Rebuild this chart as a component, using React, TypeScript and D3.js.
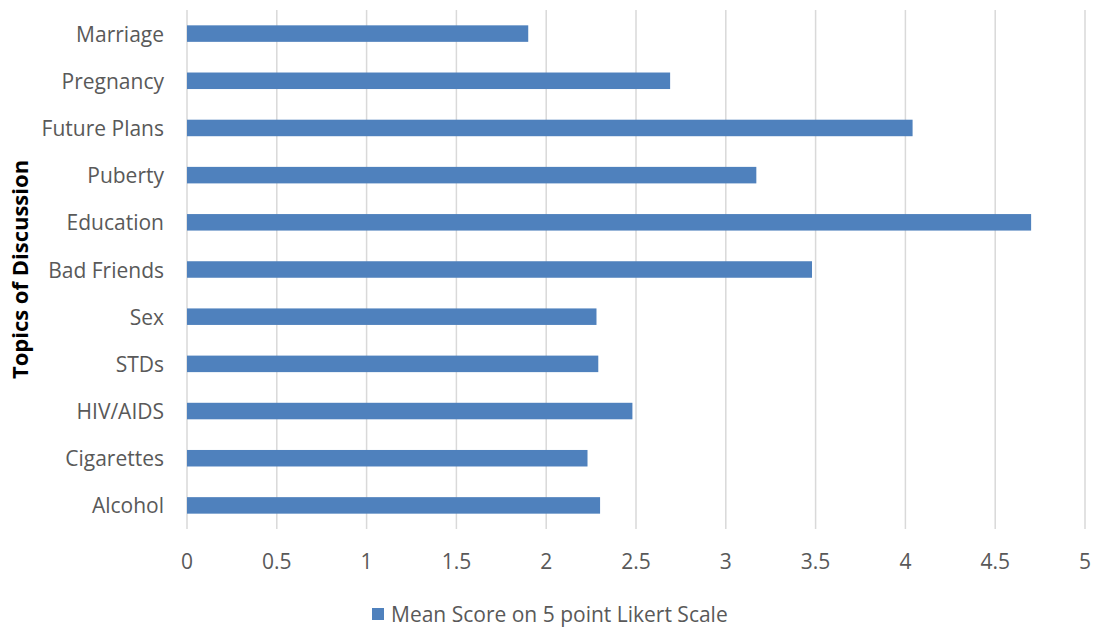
import React from "react";
import * as d3 from "d3";

const topics = [
  "Marriage",
  "Pregnancy",
  "Future Plans",
  "Puberty",
  "Education",
  "Bad Friends",
  "Sex",
  "STDs",
  "HIV/AIDS",
  "Cigarettes",
  "Alcohol",
];
const meanScores = [1.9, 2.69, 4.04, 3.17, 4.7, 3.48, 2.28, 2.29, 2.48, 2.23, 2.3];
const xTicks = [0, 0.5, 1, 1.5, 2, 2.5, 3, 3.5, 4, 4.5, 5];
const seriesName = "Mean Score on 5 point Likert Scale";
const yTitle = "Topics of Discussion";

const W = 1094;
const H = 627;
const M = { left: 187, right: 9, top: 10, bottom: 98 };
const FONT = "'Open Sans', 'Liberation Sans', sans-serif";
const BAR = "#4f81bd";
const GRID = "#d9d9d9";
const TEXT = "#595959";

export default function App() {
  const x = d3.scaleLinear().domain([0, 5]).range([M.left, W - M.right]);
  const y = d3
    .scaleBand<string>()
    .domain(topics)
    .range([M.top, H - M.bottom])
    .paddingInner(0.65)
    .paddingOuter(0.325);
  const bottom = H - M.bottom;

  return (
    <svg
      width={W}
      height={H}
      style={{ position: "absolute", left: 0, top: 0, background: "#fff" }}
      fontFamily={FONT}
    >
      {xTicks.map((t) => (
        <line
          key={"g" + t}
          x1={x(t)}
          x2={x(t)}
          y1={M.top}
          y2={bottom}
          stroke={GRID}
          strokeWidth={1.5}
        />
      ))}
      {topics.map((c, i) => (
        <rect
          key={c}
          x={x(0)}
          y={y(c)}
          width={x(meanScores[i]) - x(0)}
          height={y.bandwidth()}
          fill={BAR}
        />
      ))}
      {topics.map((c) => (
        <text
          key={"l" + c}
          x={x(0) - 23}
          y={(y(c) ?? 0) + y.bandwidth() / 2}
          textAnchor="end"
          dominantBaseline="central"
          fontSize={21}
          fill={TEXT}
        >
          {c}
        </text>
      ))}
      {xTicks.map((t) => (
        <text
          key={"t" + t}
          x={x(t)}
          y={bottom + 32}
          textAnchor="middle"
          dominantBaseline="central"
          fontSize={21}
          fill={TEXT}
        >
          {t}
        </text>
      ))}
      <text
        transform={`translate(19,${(M.top + bottom) / 2}) rotate(-90)`}
        textAnchor="middle"
        dominantBaseline="central"
        fontSize={22}
        fontWeight="bold"
        fill="#000"
      >
        {yTitle}
      </text>
      <rect x={372} y={608} width={12} height={12} fill={BAR} />
      <text x={391} y={614} dominantBaseline="central" fontSize={21} fill={TEXT}>
        {seriesName}
      </text>
    </svg>
  );
}
